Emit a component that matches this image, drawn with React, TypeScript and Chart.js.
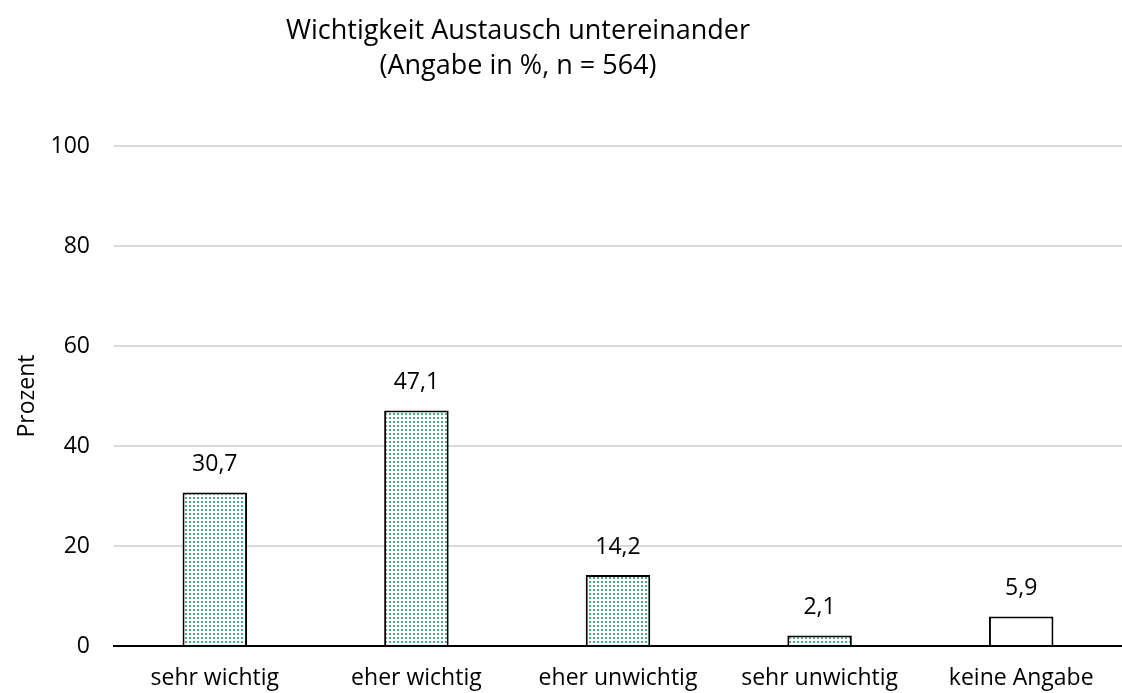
import React, { useEffect, useRef } from "react";
import { Chart, registerables } from "chart.js";

Chart.register(...registerables);

const categories = ["sehr wichtig", "eher wichtig", "eher unwichtig", "sehr unwichtig", "keine Angabe"];
const values = [30.7, 47.1, 14.2, 2.1, 5.9];
const valueLabels = ["30,7", "47,1", "14,2", "2,1", "5,9"];
const titleLines = ["Wichtigkeit Austausch untereinander", "(Angabe in %, n = 564)"];
const yTitle = "Prozent";

const FONT = "'Open Sans', 'Noto Sans', sans-serif";

function makePattern(): CanvasPattern | string {
  const c = document.createElement("canvas");
  c.width = 4;
  c.height = 4;
  const ctx = c.getContext("2d");
  if (!ctx) return "#7fbfa3";
  ctx.fillStyle = "#ffffff";
  ctx.fillRect(0, 0, 4, 4);
  ctx.fillStyle = "#4fa682";
  ctx.fillRect(1, 1, 2, 2);
  const p = ctx.createPattern(c, "repeat");
  return p || "#7fbfa3";
}

export default function App() {
  const ref = useRef<HTMLCanvasElement | null>(null);
  useEffect(() => {
    if (!ref.current) return;
    const pat = makePattern();
    const fills = values.map((_, i) => (i === values.length - 1 ? "#ffffff" : pat));

    const titlePlugin = {
      id: "customTitle",
      afterDraw(chart: any) {
        const ctx = chart.ctx;
        ctx.save();
        ctx.fillStyle = "#000";
        ctx.font = `27px ${FONT}`;
        ctx.textAlign = "center";
        ctx.textBaseline = "middle";
        ctx.fillText(titleLines[0], 518, 31);
        ctx.fillText(titleLines[1], 518, 66);
        ctx.restore();
      },
    };
    const labelPlugin = {
      id: "valueLabels",
      afterDatasetsDraw(chart: any) {
        const ctx = chart.ctx;
        const meta = chart.getDatasetMeta(0);
        ctx.save();
        ctx.fillStyle = "#000";
        ctx.font = `23px ${FONT}`;
        ctx.textAlign = "center";
        ctx.textBaseline = "middle";
        meta.data.forEach((el: any, i: number) => {
          ctx.fillText(valueLabels[i], el.x, el.y - 28);
        });
        ctx.restore();
      },
    };

    const chart = new Chart(ref.current, {
      type: "bar",
      data: {
        labels: categories,
        datasets: [
          {
            data: values,
            backgroundColor: fills as any,
            borderColor: "#000000",
            borderWidth: 2,
            barPercentage: 0.64,
            categoryPercentage: 0.5,
          },
        ],
      },
      options: {
        responsive: false,
        animation: false,
        devicePixelRatio: 1,
        layout: { padding: { top: 146, right: 0, left: 0, bottom: 0 } },
        plugins: {
          legend: { display: false },
          title: { display: false },
          tooltip: { enabled: false },
        },
        scales: {
          x: {
            grid: { display: false },
            border: { display: true, color: "#000", width: 2 },
            ticks: { color: "#000", font: { family: FONT, size: 23 }, padding: 11, maxRotation: 0 },
            afterFit(axis: any) {
              axis.height = 47;
            },
          },
          y: {
            min: 0,
            max: 100,
            ticks: { stepSize: 20, color: "#000", font: { family: FONT, size: 23 }, padding: 24 },
            grid: { color: "#d9d9d9", lineWidth: 2, drawTicks: false },
            border: { display: false },
            title: { display: true, text: yTitle, color: "#000", font: { family: FONT, size: 23 }, padding: { top: 14, bottom: 0 } },
            afterFit(axis: any) {
              axis.width = 114;
            },
          },
        },
      },
      plugins: [titlePlugin, labelPlugin],
    });
    return () => chart.destroy();
  }, []);
  return (
    <div style={{ position: "absolute", left: 0, top: 0, width: 1122, height: 693, background: "#fff" }}>
      <canvas ref={ref} width={1122} height={693} style={{ width: 1122, height: 693 }} />
    </div>
  );
}
